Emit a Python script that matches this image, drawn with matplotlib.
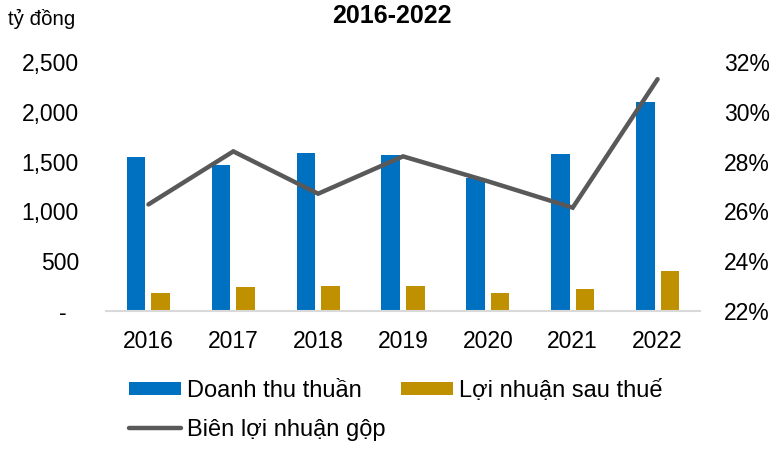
import matplotlib
matplotlib.use("Agg")
import matplotlib.pyplot as plt
import numpy as np
from matplotlib.ticker import FuncFormatter

plt.rcParams["font.family"] = ["Liberation Sans", "DejaVu Sans"]

years = ["2016", "2017", "2018", "2019", "2020", "2021", "2022"]
revenue = [1545, 1465, 1590, 1565, 1340, 1575, 2100]
net_profit = [178, 244, 254, 251, 178, 218, 405]
gross_margin = [26.28, 28.41, 26.71, 28.21, 27.21, 26.15, 31.31]

left_ticks = [0, 500, 1000, 1500, 2000, 2500]
right_ticks = [22, 24, 26, 28, 30, 32]

BLUE = "#0070C0"
GOLD = "#BF9000"
GREY = "#595959"

fig = plt.figure(figsize=(7.7, 4.5), dpi=100)
ax = fig.add_axes([106 / 770, 1 - 311 / 450, 594 / 770, 249 / 450])
ax2 = ax.twinx()

x = np.arange(len(years))
w = 0.22
b1 = ax.bar(x - 0.145, revenue, w, color=BLUE, label="Doanh thu thuần", zorder=2)
b2 = ax.bar(x + 0.145, net_profit, w, color=GOLD, label="Lợi nhuận sau thuế", zorder=2)
ln, = ax2.plot(x, gross_margin, color=GREY, lw=3.2, solid_capstyle="round",
               solid_joinstyle="miter", label="Biên lợi nhuận gộp")

ax.set_xlim(-0.5, len(years) - 0.5)
ax.set_ylim(0, 2500)
ax2.set_ylim(22, 32)
ax.set_yticks(left_ticks)
ax2.set_yticks(right_ticks)
ax.yaxis.set_major_formatter(FuncFormatter(lambda v, p: "-  " if v == 0 else f"{v:,.0f}"))
ax2.yaxis.set_major_formatter(FuncFormatter(lambda v, p: f"{v:.0f}%"))
ax.set_xticks(x)
ax.set_xticklabels(years)

for a in (ax, ax2):
    for s in a.spines.values():
        s.set_visible(False)
    a.tick_params(length=0, labelsize=16.5, colors="black")
ax.spines["bottom"].set_visible(True)
ax.spines["bottom"].set_color("#D9D9D9")
ax.spines["bottom"].set_linewidth(1.5)
ax.tick_params(axis="x", pad=14)
ax.tick_params(axis="y", pad=19.5)
ax2.tick_params(axis="y", pad=17)

fig.text(392 / 770, 1 - 16 / 450, "2016-2022", ha="center", va="center",
         fontsize=18, fontweight="bold")
fig.text(8 / 770, 1 - 19 / 450, "tỷ đồng", ha="left", va="center", fontsize=14.8)

fig.legend(handles=[b1, ln, b2], loc="upper left", bbox_to_anchor=(129 / 770, 1 - 380 / 450),
           ncol=2, frameon=False, fontsize=17, handlelength=2.2, handleheight=0.5,
           handletextpad=0.25, columnspacing=0.65, labelspacing=0.7, borderaxespad=0,
           borderpad=0)

fig.savefig("out.png", dpi=100)
